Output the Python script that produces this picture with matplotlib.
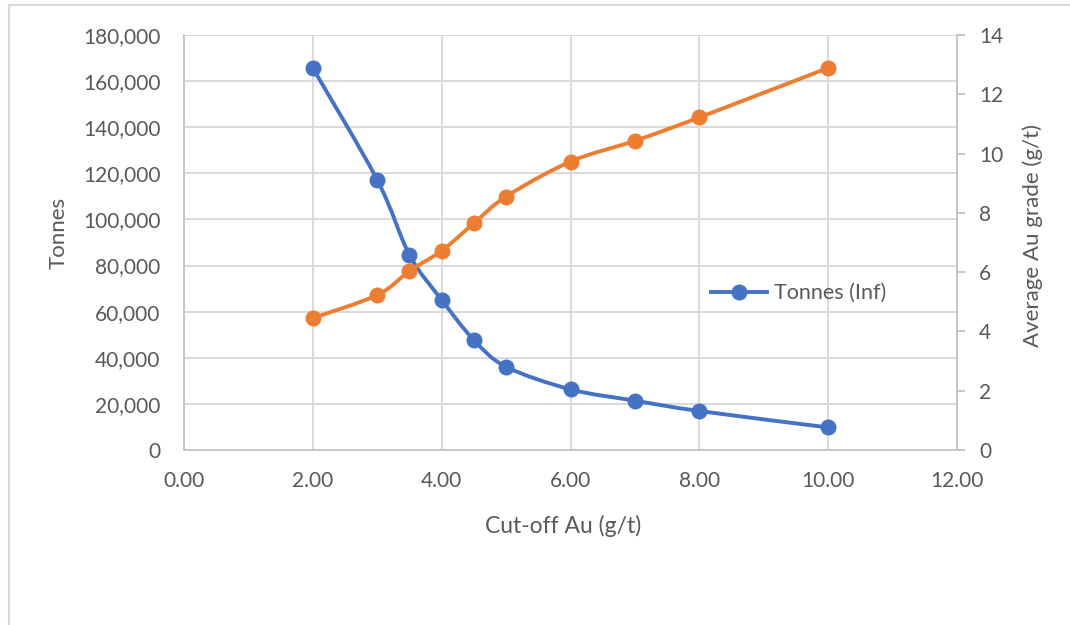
#!/usr/bin/env python3

import matplotlib
matplotlib.use("Agg")
import matplotlib.pyplot as plt
import numpy as np
from matplotlib.lines import Line2D
from matplotlib.patches import PathPatch
from matplotlib.path import Path
from matplotlib.ticker import FuncFormatter, MultipleLocator


cutoff = [2.0, 3.0, 3.5, 4.0, 4.5, 5.0, 6.0, 7.0, 8.0, 10.0]
tonnes = [165600, 117100, 84600, 65100, 47700, 36100, 26300, 21400, 16900, 9800]
grade = [4.45, 5.23, 6.04, 6.72, 7.65, 8.55, 9.73, 10.43, 11.22, 12.89]

BLUE = "#4472C4"
ORANGE = "#ED7D31"
TEXT = "#595959"
GRID = "#d9d9d9"
AXIS = "#c6c6c6"


def smooth_path(x, y):
    # Catmull-Rom style bezier through every point (spreadsheet "smoothed line")
    pts = np.column_stack([x, y]).astype(float)
    verts = [pts[0]]
    codes = [Path.MOVETO]
    n = len(pts)
    for i in range(n - 1):
        p0 = pts[i - 1] if i > 0 else pts[i]
        p1 = pts[i]
        p2 = pts[i + 1]
        p3 = pts[i + 2] if i + 2 < n else pts[i + 1]
        verts += [p1 + (p2 - p0) / 6, p2 - (p3 - p1) / 6, p2]
        codes += [Path.CURVE4] * 3
    return Path(verts, codes)


def main() -> None:
    plt.rcParams["font.family"] = ["Lato", "DejaVu Sans"]
    plt.rcParams["font.size"] = 15

    fig = plt.figure(figsize=(10.7, 6.25), dpi=100)
    ax = fig.add_axes([0.172, 0.28, 0.7224, 0.664])
    ax2 = ax.twinx()

    # outer chart frame
    fig.add_artist(Line2D([9 / 1070, 9 / 1070], [0, 1 - 5 / 625],
                          transform=fig.transFigure, color=GRID, lw=1.5))
    fig.add_artist(Line2D([9 / 1070, 1], [1 - 5 / 625, 1 - 5 / 625],
                          transform=fig.transFigure, color=GRID, lw=1.5))

    ax.set_xlim(0, 12)
    ax.set_ylim(0, 180000)
    ax2.set_ylim(0, 14)

    ax.xaxis.set_major_locator(MultipleLocator(2))
    ax.yaxis.set_major_locator(MultipleLocator(20000))
    ax2.yaxis.set_major_locator(MultipleLocator(2))
    ax.xaxis.set_major_formatter(FuncFormatter(lambda v, _: f"{v:.2f}"))
    ax.yaxis.set_major_formatter(FuncFormatter(lambda v, _: f"{v:,.0f}"))

    ax.grid(True, color=GRID, lw=1.4)
    ax.set_axisbelow(True)

    for s in ("top", "right"):
        ax.spines[s].set_visible(False)
    for s in ("left", "bottom"):
        ax.spines[s].set_color(AXIS)
        ax.spines[s].set_linewidth(1.4)
    for s in ("top", "left", "bottom"):
        ax2.spines[s].set_visible(False)
    ax2.spines["right"].set_color(AXIS)
    ax2.spines["right"].set_linewidth(1.4)

    ax.tick_params(axis="y", length=0, pad=17, colors=TEXT, labelsize=15)
    ax.tick_params(axis="x", length=0, pad=15, colors=TEXT, labelsize=15)
    ax2.tick_params(axis="y", length=6, width=1.4, color=AXIS, pad=10,
                    labelcolor=TEXT, labelsize=15)

    # tonnes on primary axis
    ax.add_patch(PathPatch(smooth_path(cutoff, tonnes), fill=False,
                           edgecolor=BLUE, lw=2.8, capstyle="round"))
    ax.plot(cutoff, tonnes, ls="none", marker="o", ms=10.5, color=BLUE)

    # grade on secondary axis
    ax2.add_patch(PathPatch(smooth_path(cutoff, grade), fill=False,
                            edgecolor=ORANGE, lw=2.8, capstyle="round"))
    ax2.plot(cutoff, grade, ls="none", marker="o", ms=10.5, color=ORANGE)

    ax.set_ylabel("Tonnes", color=TEXT, fontsize=16)
    ax.yaxis.set_label_coords(-0.149, 0.523)
    ax.set_xlabel("Cut-off Au (g/t)", color=TEXT, fontsize=16.5)
    ax.xaxis.set_label_coords(0.49, -0.157)
    ax2.set_ylabel("Average Au grade (g/t)", color=TEXT, fontsize=16)
    ax2.yaxis.set_label_coords(1.085, 0.518)

    handle = Line2D([], [], color=BLUE, lw=2.8, marker="o", ms=10.5)
    leg = ax2.legend([handle], ["Tonnes (Inf)"], loc="center left",
                     bbox_to_anchor=(0.682, 0.378), frameon=False,
                     borderpad=0, borderaxespad=0, handlelength=2.6,
                     handletextpad=0.3, fontsize=15.5)
    for t in leg.get_texts():
        t.set_color(TEXT)

    fig.savefig("out.png", dpi=100, facecolor="white")


if __name__ == "__main__":
    main()
